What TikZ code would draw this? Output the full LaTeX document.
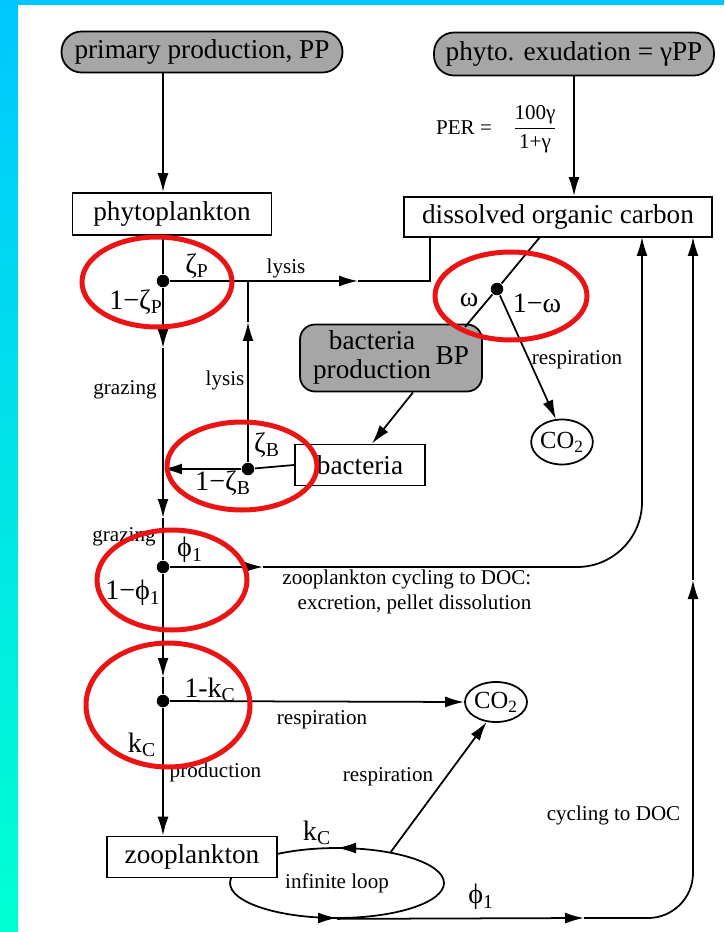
\documentclass[tikz,border=0pt]{standalone}
\usepackage{fontspec}
\setmainfont{Liberation Serif}
\usetikzlibrary{arrows.meta,shapes.geometric,decorations.markings}
\definecolor{ringred}{RGB}{235,20,20}
\definecolor{stripA}{RGB}{0,200,255}
\definecolor{stripB}{RGB}{0,255,210}
\begin{document}
\begin{tikzpicture}[x=0.02cm,y=-0.02cm,line width=1pt,
  arr/.style={-{Latex[length=0.38cm,width=0.22cm]}},
  box/.style={draw,fill=white,inner sep=0pt,font=\fontsize{15.5}{18}\selectfont},
  blob/.style={draw,rounded corners=0.4cm,fill=gray!70,inner sep=0pt,font=\fontsize{15.5}{16.5}\selectfont},
  gas/.style={draw,ellipse,inner sep=0pt,font=\fontsize{14}{16}\selectfont},
  dot/.style={circle,fill,inner sep=0pt,minimum size=0.25cm},
  lab/.style={font=\fontsize{12}{14}\selectfont},
  sym/.style={font=\fontsize{16}{18}\selectfont},
  ring/.style={draw=ringred,line width=0.1cm},
  loopy/.style={postaction={decorate,decoration={markings,
    mark=at position 0.25 with {\arrow{Latex[length=0.38cm,width=0.22cm]}},
    mark=at position 0.75 with {\arrow{Latex[length=0.38cm,width=0.22cm]}}}}}]
\useasboundingbox (0,0) rectangle (724,932);
\shade[top color=stripA,bottom color=stripB] (0,0) rectangle (18,932);
\fill[stripA] (18,0) rectangle (724,5);
% boxes
\node[blob,minimum width=5.62cm,minimum height=0.82cm] (pp) at (202,52) {primary production, PP};
\node[blob,minimum width=5.6cm,minimum height=0.86cm] (exud) at (574,54) {phyto. exudation = γPP};
\node[box,minimum width=3.98cm,minimum height=0.84cm] (phyto) at (172,214) {phytoplankton};
\node[box,minimum width=6.16cm,minimum height=0.8cm] (doc) at (558,217) {dissolved organic carbon};
\node[blob,rounded corners=0.3cm,minimum width=3.64cm,minimum height=1.34cm] (bp) at (391,358) {\begin{tabular}{@{}c@{}}bacteria\\production\end{tabular}\,BP};
\node[box,minimum width=2.6cm,minimum height=0.82cm] (bact) at (360,465) {bacteria};
\node[gas,minimum width=1.2cm,minimum height=0.9cm] (co2a) at (562,442) {CO\textsubscript{2}};
\node[gas,minimum width=1.24cm,minimum height=0.8cm] (co2b) at (496,702) {CO\textsubscript{2}};
\node[gas,loopy,font=\fontsize{12}{14}\selectfont,minimum width=4.28cm,minimum height=1.4cm] (loop) at (337,883) {infinite loop};
\node[box,minimum width=3.4cm,minimum height=0.82cm] (zoo) at (192,857) {zooplankton};
% branch points
\foreach \n/\x/\y in {dotP/163/281,dotB/248/469,dotW/497/289,dotF/163/567,dotK/163/701} {\node[dot] (\n) at (\x,\y) {};}
\foreach \n/\x/\y in {lysP/358/281,docP/430/237,grazeA/163/348,grazeB/163/518,lysB/248/322,docW/540/237,bpW/465/327,cycF/263/567,docF/642/237,prodK/163/677,cycL/584/918,cycU/693/580,docL/693/237} {\coordinate (\n) at (\x,\y);}
% flows
\draw[arr] (pp.south -| dotP) -- (phyto.north -| dotP);
\draw[arr] (exud.south) -- (exud.south |- doc.north);
\draw (phyto.south -| dotP) -- (dotP);
\draw[arr] (dotP) -- (lysP); \draw (lysP) -| (docP);
\draw[arr] (dotP) -- (grazeA); \draw[arr] (grazeA) -- (grazeB); \draw (grazeB) -- (dotF);
\draw (bact.west) -- (dotB); \draw[arr] (dotB) -- (dotB -| dotP);
\draw[arr] (dotB) -- (lysB); \draw (lysB) -- (dotB |- dotP);
\draw (docW) -- (dotW) -- (bpW);
\draw[arr] ([xshift=0.44cm]bp.south) -- ([xshift=0.24cm]bact.north);
\draw[arr] (dotW) -- (co2a.105);
\draw[arr] (dotF) -- (cycF); \draw[arr,rounded corners=1.3cm] (cycF) -| (docF);
\draw[arr] (dotF) -- (prodK); \draw (prodK) -- (dotK);
\draw[arr] (dotK) -- (co2b.west);
\draw[arr] (dotK) -- (zoo.north -| dotK);
\draw[arr] (loop.30) -- (co2b.245);
\draw[arr] (loop.south) -- (cycL); \draw[arr,rounded corners=0.9cm] (cycL) -| (cycU); \draw[arr] (cycU) -- (docL);
% labels
\node[lab] (l1) at (286,268) {lysis};
\node[sym] (l2) at (197,266) {ζ\textsubscript{P}};
\node[sym] (l3) at (136,302) {1−ζ\textsubscript{P}};
\node[lab] (l4) at (125,390) {grazing};
\node[lab] (l5) at (225,380) {lysis};
\node[sym] (l6) at (267,445) {ζ\textsubscript{B}};
\node[sym] (l7) at (223,483) {1−ζ\textsubscript{B}};
\node[sym] (l8) at (469,300) {ω};
\node[sym] (l9) at (537,303) {1−ω};
\node[lab] (l10) at (577,360) {respiration};
\node[lab] (l11) at (464,128) {PER =};
\node[lab] (l12) at (535,129) {$\displaystyle\frac{\mbox{100γ}}{\mbox{1+γ}}$};
\node[lab] (l13) at (124,537) {grazing};
\node[sym] (l14) at (190,550) {ϕ\textsubscript{1}};
\node[sym] (l15) at (133,593) {1−ϕ\textsubscript{1}};
\node[lab,align=right,anchor=east] (l16) at (538,592) {zooplankton cycling to DOC:\\excretion, pellet dissolution};
\node[sym] (l17) at (210,690) {1-k\textsubscript{C}};
\node[sym] (l18) at (142,745) {k\textsubscript{C}};
\node[lab] (l19) at (322,720) {respiration};
\node[lab,anchor=west] (l20) at (163,772) {production};
\node[lab] (l21) at (388,777) {respiration};
\node[sym] (l22) at (317,833) {k\textsubscript{C}};
\node[sym] (l23) at (481,897) {ϕ\textsubscript{1}};
\node[lab,anchor=east] (l24) at (687,815) {cycling to DOC};
% red marks
\foreach \x/\y/\rx/\ry in {157/282/75/45,242/466/75/44,511/296/76/44,172/580/75/50,168/705/82/62} {\draw[ring] (\x,\y) ellipse [x radius=\rx,y radius=\ry];}
\end{tikzpicture}
\end{document}
